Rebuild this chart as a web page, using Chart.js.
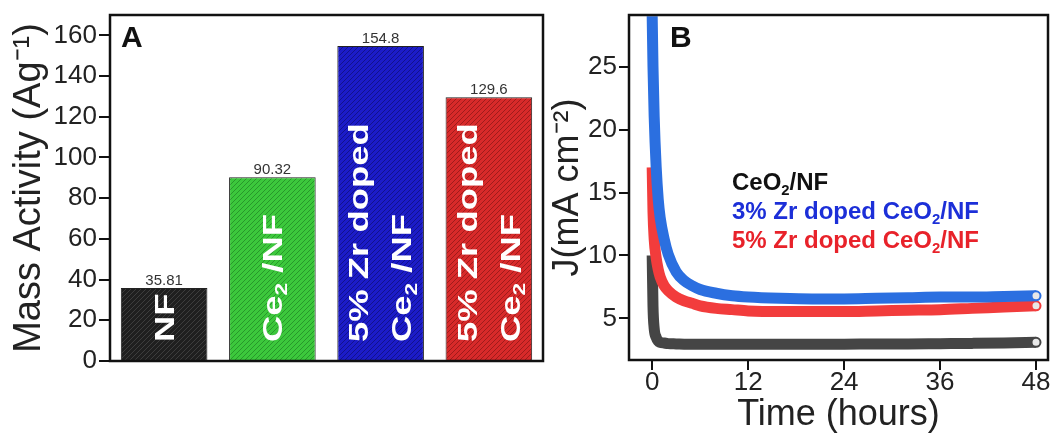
<!DOCTYPE html>
<html>
<head>
<meta charset="utf-8">
<script src="https://cdn.jsdelivr.net/npm/chart.js@4/dist/chart.umd.min.js"></script>
<style>
  body { margin: 0; background: #fff; }
  #wrap { position: relative; width: 1061px; height: 437px; }
  #chartA { position: absolute; left: 0; top: 0; }
  #chartB { position: absolute; left: 545px; top: 0; }
</style>
</head>
<body>
<div id="wrap">
  <canvas id="chartA" width="545" height="437"></canvas>
  <canvas id="chartB" width="516" height="437"></canvas>
</div>
<script>
const FONT = '"Liberation Sans", Arial, sans-serif';

// panel A data
const categories = ["NF", "Ce2/NF", "5% Zr doped Ce2/NF", "5% Zr doped Ce2/NF "];
const barText = [["NF"], ["Ce_2 /NF"], ["5% Zr doped", "Ce_2 /NF"], ["5% Zr doped", "Ce_2 /NF"]];
const massActivity = [35.81, 90.32, 154.8, 129.6];
const yTicksA = [0, 20, 40, 60, 80, 100, 120, 140, 160];

// panel B data
const hours = [0, 0.1, 0.25, 0.5, 0.75, 1, 1.5, 2, 3, 4, 5, 6, 8, 10, 12, 16, 20, 24, 28, 32, 36, 40, 44, 48];
const jCeO2 = [10, 6, 4.2, 3.5, 3.2, 3.1, 3.05, 3.0, 2.98, 2.96, 2.95, 2.95, 2.95, 2.95, 2.95, 2.95, 2.95, 2.96, 2.97, 2.98, 3.0, 3.02, 3.05, 3.1];
const jZr3 = [29, 25, 21, 17, 14.5, 13, 11.3, 10.1, 8.7, 8.0, 7.6, 7.3, 7.0, 6.8, 6.7, 6.6, 6.55, 6.55, 6.6, 6.65, 6.7, 6.7, 6.75, 6.8];
const jZr5 = [17, 13.5, 11.3, 9.8, 8.9, 8.3, 7.6, 7.2, 6.7, 6.4, 6.2, 6.0, 5.8, 5.7, 5.6, 5.55, 5.55, 5.55, 5.6, 5.65, 5.7, 5.8, 5.9, 6.0];
const xTicksB = [0, 12, 24, 36, 48];
const yTicksB = [5, 10, 15, 20, 25];
const legendB = [
  { text: "CeO_2/NF", color: "#111111" },
  { text: "3% Zr doped CeO_2/NF", color: "#1c2fd8" },
  { text: "5% Zr doped CeO_2/NF", color: "#e8222a" }
];

function hatch(bg, fg) {
  const c = document.createElement("canvas");
  c.width = 5; c.height = 5;
  const g = c.getContext("2d");
  g.fillStyle = bg;
  g.fillRect(0, 0, 5, 5);
  g.strokeStyle = fg;
  g.lineWidth = 1;
  g.beginPath();
  g.moveTo(-1, 6); g.lineTo(6, -1);
  g.moveTo(-1, 1); g.lineTo(1, -1);
  g.moveTo(4, 6); g.lineTo(6, 4);
  g.stroke();
  return g.createPattern(c, "repeat");
}

function richParts(str) {
  const parts = [];
  let buf = "";
  for (let i = 0; i < str.length; i++) {
    if (str[i] === "_") {
      if (buf) parts.push({ t: buf, sub: false });
      buf = "";
      parts.push({ t: str[i + 1], sub: true });
      i++;
    } else buf += str[i];
  }
  if (buf) parts.push({ t: buf, sub: false });
  return parts;
}

function drawRich(ctx, str, x, y, size, weight) {
  let cx = x;
  for (const p of richParts(str)) {
    const s = p.sub ? size * 0.62 : size;
    ctx.font = weight + " " + s + "px " + FONT;
    ctx.fillText(p.t, cx, p.sub ? y + size * 0.2 : y);
    cx += ctx.measureText(p.t).width;
  }
}

const panelA = {
  id: "panelA",
  afterDatasetsDraw(chart) {
    const ctx = chart.ctx;
    const a = chart.chartArea;
    const meta = chart.getDatasetMeta(0);
    ctx.save();
    // value labels
    ctx.fillStyle = "#333";
    ctx.font = "15px " + FONT;
    ctx.textAlign = "center";
    ctx.textBaseline = "alphabetic";
    meta.data.forEach((bar, i) => {
      ctx.fillText(String(massActivity[i]), bar.x, bar.y - 3);
    });
    // rotated text inside the bars
    ctx.textAlign = "left";
    ctx.fillStyle = "#fff";
    meta.data.forEach((bar, i) => {
      const lines = barText[i];
      lines.forEach((ln, k) => {
        const off = lines.length === 1 ? 0 : (k === 0 ? -22 : 21);
        ctx.save();
        ctx.translate(bar.x + off, bar.base - 18);
        ctx.rotate(-Math.PI / 2);
        ctx.scale(1.35, 1);
        drawRich(ctx, ln, 0, 27 * 0.36, 27, "bold");
        ctx.restore();
      });
    });
    // frame
    ctx.strokeStyle = "#111";
    ctx.lineWidth = 2.5;
    ctx.strokeRect(a.left, a.top, a.right - a.left, a.bottom - a.top);
    ctx.fillStyle = "#111";
    ctx.font = "bold 30px " + FONT;
    ctx.fillText("A", a.left + 11, a.top + 32);
    ctx.restore();
  }
};

new Chart(document.getElementById("chartA"), {
  type: "bar",
  data: {
    labels: categories,
    datasets: [{
      data: massActivity,
      backgroundColor: [
        hatch("#1f1f1f", "#3d3d3d"),
        hatch("#3cc83c", "#27982a"),
        hatch("#1c1cc8", "#12128c"),
        hatch("#d82a2a", "#a01b1b")
      ],
      borderColor: "#222",
      borderWidth: 1,
      barPercentage: 0.8,
      categoryPercentage: 1
    }]
  },
  options: {
    responsive: false,
    animation: false,
    layout: { padding: { top: 14, right: 2, bottom: 76, left: 0 } },
    plugins: { legend: { display: false }, tooltip: { enabled: false } },
    scales: {
      x: { display: false },
      y: {
        min: 0,
        max: 170,
        afterBuildTicks: (s) => { s.ticks = yTicksA.map(v => ({ value: v })); },
        afterFit: (s) => { s.width = 110; },
        grid: { drawOnChartArea: false, tickLength: 11, tickColor: "#111", lineWidth: 2 },
        border: { display: false },
        ticks: { color: "#222", padding: 2, font: { family: FONT, size: 26, lineHeight: 1 } },
        title: {
          display: true,
          text: "Mass Activity (Ag⁻¹)",
          color: "#222",
          padding: { top: 11, bottom: 0 },
          font: { family: FONT, size: 38, lineHeight: 1 }
        }
      }
    }
  },
  plugins: [panelA]
});

const panelB = {
  id: "panelB",
  afterDatasetsDraw(chart) {
    const ctx = chart.ctx;
    const a = chart.chartArea;
    ctx.save();
    ctx.strokeStyle = "#111";
    ctx.lineWidth = 2.5;
    ctx.strokeRect(a.left, a.top, a.right - a.left, a.bottom - a.top);
    ctx.fillStyle = "#111";
    ctx.textAlign = "left";
    ctx.font = "bold 30px " + FONT;
    ctx.fillText("B", a.left + 41, a.top + 32);
    legendB.forEach((item, i) => {
      ctx.fillStyle = item.color;
      drawRich(ctx, item.text, a.left + 103, 190 + i * 29, 24, "bold");
    });
    ctx.restore();
  }
};

function series(vals, color) {
  const last = vals.length - 1;
  return {
    data: hours.map((h, i) => ({ x: h, y: vals[i] })),
    borderColor: color,
    borderWidth: 11,
    cubicInterpolationMode: "monotone",
    pointRadius: vals.map((v, i) => (i === last ? 4.5 : 0)),
    pointBackgroundColor: "#e8e8e8",
    pointBorderColor: color,
    pointBorderWidth: 2,
    fill: false
  };
}

new Chart(document.getElementById("chartB"), {
  type: "line",
  data: {
    datasets: [
      series(jZr3, "#2b6fe0"),
      series(jZr5, "#f23c3c"),
      series(jCeO2, "#454545")
    ]
  },
  options: {
    responsive: false,
    animation: false,
    layout: { padding: { top: 14, right: 13, bottom: 0, left: 0 } },
    plugins: { legend: { display: false }, tooltip: { enabled: false } },
    scales: {
      x: {
        type: "linear",
        min: -2.9,
        max: 49.5,
        afterBuildTicks: (s) => { s.ticks = xTicksB.map(v => ({ value: v })); },
        afterFit: (s) => { s.height = 77; },
        grid: { drawOnChartArea: false, tickLength: 10, tickColor: "#111", lineWidth: 2 },
        border: { display: false },
        ticks: { color: "#222", padding: 0, maxRotation: 0, font: { family: FONT, size: 26, lineHeight: 1 } },
        title: {
          display: true,
          text: "Time (hours)",
          color: "#222",
          padding: { top: 0, bottom: 4 },
          font: { family: FONT, size: 36, lineHeight: 1 }
        }
      },
      y: {
        min: 1.7,
        max: 29.1,
        afterBuildTicks: (s) => { s.ticks = yTicksB.map(v => ({ value: v })); },
        afterFit: (s) => { s.width = 84; },
        grid: { drawOnChartArea: false, tickLength: 10, tickColor: "#111", lineWidth: 2 },
        border: { display: false },
        ticks: { color: "#222", padding: 2, font: { family: FONT, size: 26, lineHeight: 1 } },
        title: {
          display: true,
          text: "J(mA cm⁻²)",
          color: "#222",
          padding: { top: 5, bottom: 0 },
          font: { family: FONT, size: 36, lineHeight: 1 }
        }
      }
    }
  },
  plugins: [panelB]
});
</script>
</body>
</html>
